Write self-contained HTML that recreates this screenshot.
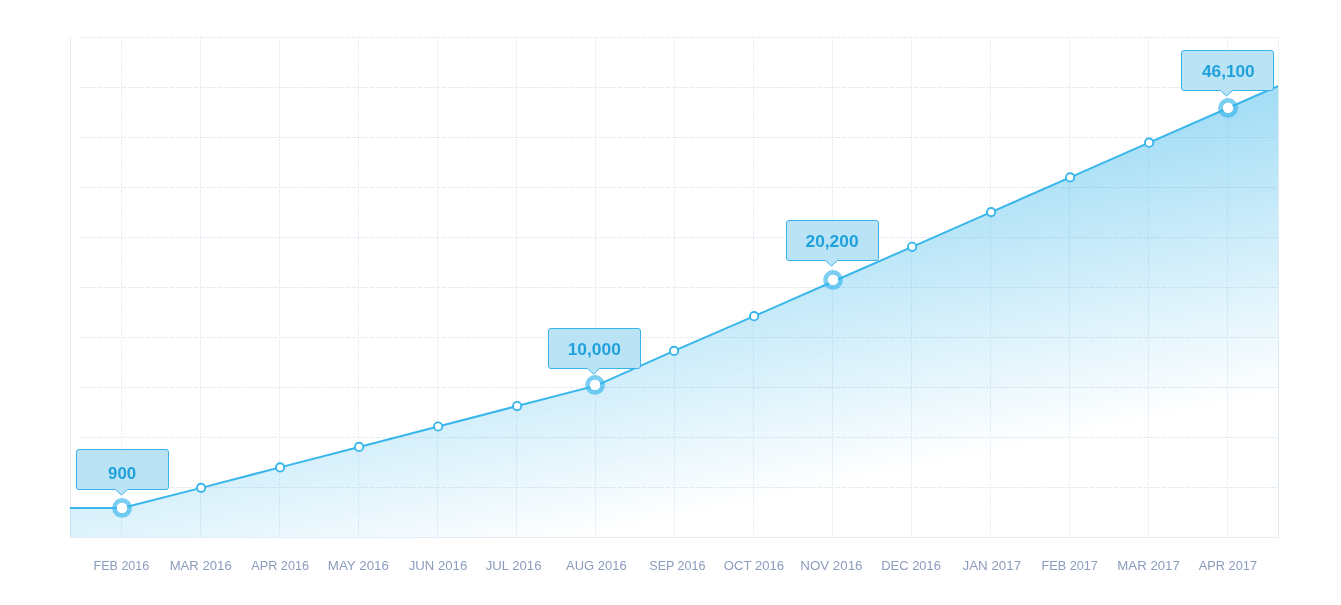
<!DOCTYPE html>
<html lang="en"><head><meta charset="utf-8"><title>Chart</title>
<style>html,body{margin:0;padding:0;background:#fff}body{width:1341px;height:605px;overflow:hidden}svg{display:block}text{font-family:"Liberation Sans",sans-serif}.lbl{font-size:13.6px;fill:#8c9cbd}.bal{font-size:16px;font-weight:bold;fill:#21a1db}</style></head><body>
<svg width="1341" height="605" viewBox="0 0 1341 605">
<defs><linearGradient id="g" gradientUnits="userSpaceOnUse" x1="1200" y1="80.6" x2="1265.59" y2="396.87"><stop offset="0" stop-color="#38b6eb" stop-opacity="0.5"/><stop offset="1" stop-color="#38b6eb" stop-opacity="0"/></linearGradient></defs>
<g stroke="#e5ecf4" stroke-width="1" fill="none">
<line x1="79" y1="37.5" x2="1278" y2="37.5" stroke-dasharray="4.8 1.25"/>
<line x1="79" y1="87.5" x2="1278" y2="87.5" stroke-dasharray="4.8 1.25"/>
<line x1="79" y1="137.5" x2="1278" y2="137.5" stroke-dasharray="4.8 1.25"/>
<line x1="79" y1="187.5" x2="1278" y2="187.5" stroke-dasharray="4.8 1.25"/>
<line x1="79" y1="237.5" x2="1278" y2="237.5" stroke-dasharray="4.8 1.25"/>
<line x1="79" y1="287.5" x2="1278" y2="287.5" stroke-dasharray="4.8 1.25"/>
<line x1="79" y1="337.5" x2="1278" y2="337.5" stroke-dasharray="4.8 1.25"/>
<line x1="79" y1="387.5" x2="1278" y2="387.5" stroke-dasharray="4.8 1.25"/>
<line x1="79" y1="437.5" x2="1278" y2="437.5" stroke-dasharray="4.8 1.25"/>
<line x1="79" y1="487.5" x2="1278" y2="487.5" stroke-dasharray="4.8 1.25"/>
<line x1="121.5" y1="37" x2="121.5" y2="537" stroke-dasharray="2 1"/>
<line x1="200.5" y1="37" x2="200.5" y2="537" stroke-dasharray="2 1"/>
<line x1="279.5" y1="37" x2="279.5" y2="537" stroke-dasharray="2 1"/>
<line x1="358.5" y1="37" x2="358.5" y2="537" stroke-dasharray="2 1"/>
<line x1="437.5" y1="37" x2="437.5" y2="537" stroke-dasharray="2 1"/>
<line x1="516.5" y1="37" x2="516.5" y2="537" stroke-dasharray="2 1"/>
<line x1="595.5" y1="37" x2="595.5" y2="537" stroke-dasharray="2 1"/>
<line x1="674.5" y1="37" x2="674.5" y2="537" stroke-dasharray="2 1"/>
<line x1="753.5" y1="37" x2="753.5" y2="537" stroke-dasharray="2 1"/>
<line x1="832.5" y1="37" x2="832.5" y2="537" stroke-dasharray="2 1"/>
<line x1="911.5" y1="37" x2="911.5" y2="537" stroke-dasharray="2 1"/>
<line x1="990.5" y1="37" x2="990.5" y2="537" stroke-dasharray="2 1"/>
<line x1="1069.5" y1="37" x2="1069.5" y2="537" stroke-dasharray="2 1"/>
<line x1="1148.5" y1="37" x2="1148.5" y2="537" stroke-dasharray="2 1"/>
<line x1="1227.5" y1="37" x2="1227.5" y2="537" stroke-dasharray="2 1"/>
<line x1="1278.5" y1="37" x2="1278.5" y2="86.1" stroke-dasharray="2 1"/>
<line x1="1278.5" y1="86.1" x2="1278.5" y2="538" stroke="#dfe9f4"/>
<line x1="70.5" y1="37" x2="70.5" y2="538"/>
<line x1="70" y1="537.5" x2="1279" y2="537.5"/>
</g>
<polygon points="70.00,508.00 122.10,508.00 201.10,487.85 280.10,467.40 359.10,446.95 438.10,426.50 517.10,406.05 596.10,385.60 674.05,350.90 754.10,316.20 833.10,281.50 912.10,246.80 991.10,212.10 1070.10,177.40 1149.10,142.70 1228.10,108.00 1278.00,86.08 1278,537 70,537" fill="url(#g)"/>
<polyline points="70.00,508.00 122.10,508.00 201.10,487.85 280.10,467.40 359.10,446.95 438.10,426.50 517.10,406.05 596.10,385.60 674.05,350.90 754.10,316.20 833.10,281.50 912.10,246.80 991.10,212.10 1070.10,177.40 1149.10,142.70 1228.10,108.00 1278.00,86.08" fill="none" stroke="#38b6eb" stroke-width="2" stroke-linejoin="round"/>
<circle cx="201.10" cy="487.85" r="4.15" fill="#fff" stroke="#38b6eb" stroke-width="1.9"/>
<circle cx="280.10" cy="467.40" r="4.15" fill="#fff" stroke="#38b6eb" stroke-width="1.9"/>
<circle cx="359.10" cy="446.95" r="4.15" fill="#fff" stroke="#38b6eb" stroke-width="1.9"/>
<circle cx="438.10" cy="426.50" r="4.15" fill="#fff" stroke="#38b6eb" stroke-width="1.9"/>
<circle cx="517.10" cy="406.05" r="4.15" fill="#fff" stroke="#38b6eb" stroke-width="1.9"/>
<circle cx="674.05" cy="350.90" r="4.15" fill="#fff" stroke="#38b6eb" stroke-width="1.9"/>
<circle cx="754.10" cy="316.20" r="4.15" fill="#fff" stroke="#38b6eb" stroke-width="1.9"/>
<circle cx="912.10" cy="246.80" r="4.15" fill="#fff" stroke="#38b6eb" stroke-width="1.9"/>
<circle cx="991.10" cy="212.10" r="4.15" fill="#fff" stroke="#38b6eb" stroke-width="1.9"/>
<circle cx="1070.10" cy="177.40" r="4.15" fill="#fff" stroke="#38b6eb" stroke-width="1.9"/>
<circle cx="1149.10" cy="142.70" r="4.15" fill="#fff" stroke="#38b6eb" stroke-width="1.9"/>
<circle cx="122.05" cy="507.90" r="7.55" fill="none" stroke="#38b6eb" stroke-opacity="0.66" stroke-width="4.7"/><circle cx="122.05" cy="507.90" r="5.15" fill="#fff"/>
<path d="M79.0,449.5 H166.0 Q168.5,449.5 168.5,452.0 V487.0 Q168.5,489.5 166.0,489.5 H127.5 L121.5,495.0 L115.5,489.5 H79.0 Q76.5,489.5 76.5,487.0 V452.0 Q76.5,449.5 79.0,449.5 Z" fill="#bae4f6" stroke="#38b4e8" stroke-width="1"/>
<text class="bal" x="108.08" y="479.0" textLength="28.06" lengthAdjust="spacingAndGlyphs">900</text>
<circle cx="595.05" cy="384.90" r="7.55" fill="none" stroke="#38b6eb" stroke-opacity="0.66" stroke-width="4.7"/><circle cx="595.05" cy="384.90" r="5.15" fill="#fff"/>
<path d="M551.0,328.5 H638.0 Q640.5,328.5 640.5,331.0 V366.0 Q640.5,368.5 638.0,368.5 H599.5 L593.5,374.0 L587.5,368.5 H551.0 Q548.5,368.5 548.5,366.0 V331.0 Q548.5,328.5 551.0,328.5 Z" fill="#bae4f6" stroke="#38b4e8" stroke-width="1"/>
<text class="bal" x="567.71" y="354.7" textLength="53.11" lengthAdjust="spacingAndGlyphs">10,000</text>
<circle cx="833.05" cy="279.95" r="7.55" fill="none" stroke="#38b6eb" stroke-opacity="0.66" stroke-width="4.7"/><circle cx="833.05" cy="279.95" r="5.15" fill="#fff"/>
<path d="M789.0,220.5 H876.0 Q878.5,220.5 878.5,223.0 V258.0 Q878.5,260.5 876.0,260.5 H837.5 L831.5,266.0 L825.5,260.5 H789.0 Q786.5,260.5 786.5,258.0 V223.0 Q786.5,220.5 789.0,220.5 Z" fill="#bae4f6" stroke="#38b4e8" stroke-width="1"/>
<text class="bal" x="805.52" y="246.8" textLength="53.00" lengthAdjust="spacingAndGlyphs">20,200</text>
<circle cx="1228.05" cy="107.90" r="7.55" fill="none" stroke="#38b6eb" stroke-opacity="0.66" stroke-width="4.7"/><circle cx="1228.05" cy="107.90" r="5.15" fill="#fff"/>
<path d="M1184.0,50.5 H1271.0 Q1273.5,50.5 1273.5,53.0 V88.0 Q1273.5,90.5 1271.0,90.5 H1232.5 L1226.5,96.0 L1220.5,90.5 H1184.0 Q1181.5,90.5 1181.5,88.0 V53.0 Q1181.5,50.5 1184.0,50.5 Z" fill="#bae4f6" stroke="#38b4e8" stroke-width="1"/>
<text class="bal" x="1201.96" y="76.9" textLength="52.75" lengthAdjust="spacingAndGlyphs">46,100</text>
<text class="lbl" x="93.60" y="570.25" textLength="55.62" lengthAdjust="spacingAndGlyphs">FEB 2016</text>
<text class="lbl" x="169.63" y="570.25" textLength="62.07" lengthAdjust="spacingAndGlyphs">MAR 2016</text>
<text class="lbl" x="251.27" y="570.25" textLength="57.75" lengthAdjust="spacingAndGlyphs">APR 2016</text>
<text class="lbl" x="327.74" y="570.25" textLength="61.29" lengthAdjust="spacingAndGlyphs">MAY 2016</text>
<text class="lbl" x="408.72" y="570.25" textLength="58.51" lengthAdjust="spacingAndGlyphs">JUN 2016</text>
<text class="lbl" x="485.72" y="570.25" textLength="55.74" lengthAdjust="spacingAndGlyphs">JUL 2016</text>
<text class="lbl" x="566.07" y="570.25" textLength="60.58" lengthAdjust="spacingAndGlyphs">AUG 2016</text>
<text class="lbl" x="649.27" y="570.25" textLength="56.26" lengthAdjust="spacingAndGlyphs">SEP 2016</text>
<text class="lbl" x="723.82" y="570.25" textLength="60.22" lengthAdjust="spacingAndGlyphs">OCT 2016</text>
<text class="lbl" x="800.35" y="570.25" textLength="62.12" lengthAdjust="spacingAndGlyphs">NOV 2016</text>
<text class="lbl" x="881.28" y="570.25" textLength="59.69" lengthAdjust="spacingAndGlyphs">DEC 2016</text>
<text class="lbl" x="962.52" y="570.25" textLength="58.57" lengthAdjust="spacingAndGlyphs">JAN 2017</text>
<text class="lbl" x="1041.49" y="570.25" textLength="56.42" lengthAdjust="spacingAndGlyphs">FEB 2017</text>
<text class="lbl" x="1117.35" y="570.25" textLength="62.46" lengthAdjust="spacingAndGlyphs">MAR 2017</text>
<text class="lbl" x="1198.79" y="570.25" textLength="58.23" lengthAdjust="spacingAndGlyphs">APR 2017</text>
</svg></body></html>
